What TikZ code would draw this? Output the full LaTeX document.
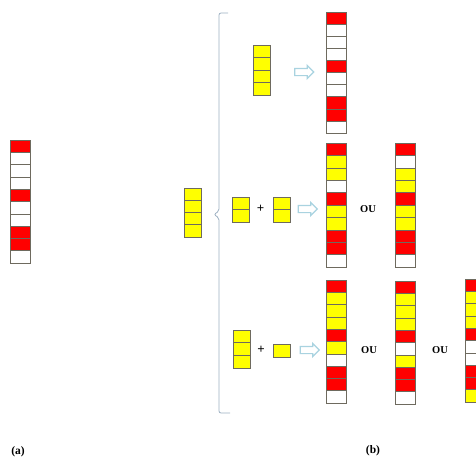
\documentclass[tikz,border=0pt]{standalone}
\usepackage{fontspec}
\setmainfont{Liberation Serif}
\usetikzlibrary{shapes.arrows}
\definecolor{cellred}{HTML}{FF0000}
\definecolor{cellyel}{HTML}{FFFF00}
\definecolor{arrowblue}{HTML}{A9D3E0}
\definecolor{bracecol}{HTML}{9DB0C2}
\definecolor{gridcol}{HTML}{6E6A5E}
\tikzset{
  cellline/.style={draw=gridcol, line width=0.6pt},
  fatarrow/.style={single arrow, draw=arrowblue, line width=1.2pt, fill=white,
    minimum height=19pt, minimum width=12pt, inner sep=3pt,
    single arrow head extend=3pt},
  oulabel/.style={font=\bfseries\fontsize{10.5}{12}\selectfont, inner sep=0pt},
  pluslabel/.style={font=\bfseries\fontsize{13}{14}\selectfont, inner sep=0pt},
  caplabel/.style={font=\bfseries\fontsize{11.5}{12}\selectfont, inner sep=0pt},
}
\newcommand\cellstrip[5]{%
  \foreach \c [count=\i from 0] in {#5} {
    \draw[cellline, fill=\c] (#1,{#2+\i*#4}) rectangle ++(#3,#4);
  }%
}
\begin{document}
\begin{tikzpicture}[x=1pt,y=-1pt]
\useasboundingbox (0,0) rectangle (476,461);
\clip (0,0) rectangle (476,461);
\def\R{cellred}\def\Y{cellyel}\def\W{white}
% (a)
\cellstrip{10}{140}{20}{12.3}{\R,\W,\W,\W,\R,\W,\W,\R,\R,\W}
% brace
\draw[bracecol, line width=0.8pt, rounded corners=2pt]
  (228,13) -- (219,13) -- (219,211) -- (214,214.5) -- (219,218) -- (219,413) -- (230,413);
% left 4-stack
\cellstrip{184}{188}{17}{12.25}{\Y,\Y,\Y,\Y}
% row 1
\cellstrip{253}{45}{17}{12.5}{\Y,\Y,\Y,\Y}
\node[fatarrow] (ar1) at (302.5,72) {};
\cellstrip{326}{12}{20}{12.1}{\R,\W,\W,\W,\R,\W,\W,\R,\R,\W}
% row 2
\cellstrip{232}{197}{17}{12.5}{\Y,\Y}
\node[pluslabel] (p2) at (260.5,209) {+};
\cellstrip{273}{197}{17}{12.5}{\Y,\Y}
\node[fatarrow] (ar2) at (306,209) {};
\cellstrip{326}{143}{20}{12.4}{\R,\Y,\Y,\W,\R,\Y,\Y,\R,\R,\W}
\node[oulabel] (ou1) at (368,209) {OU};
\cellstrip{395}{143}{20}{12.4}{\R,\W,\Y,\Y,\R,\Y,\Y,\R,\R,\W}
% row 3
\cellstrip{233}{330}{17}{12.7}{\Y,\Y,\Y}
\node[pluslabel] (p3) at (261,350) {+};
\cellstrip{273}{344}{17}{13}{\Y}
\node[fatarrow] (ar3) at (308,350) {};
\cellstrip{326}{280}{20}{12.3}{\R,\Y,\Y,\Y,\R,\Y,\W,\R,\R,\W}
\node[oulabel] (ou2) at (369,350) {OU};
\cellstrip{395}{281}{20}{12.3}{\R,\Y,\Y,\Y,\R,\W,\Y,\R,\R,\W}
\node[oulabel] (ou3) at (440,350) {OU};
\cellstrip{465}{279}{20}{12.3}{\R,\Y,\Y,\Y,\R,\W,\W,\R,\R,\Y}
% captions
\node[caplabel] (capa) at (18,452) {(a)};
\node[caplabel] (capb) at (373,451) {(b)};
\end{tikzpicture}
\end{document}
